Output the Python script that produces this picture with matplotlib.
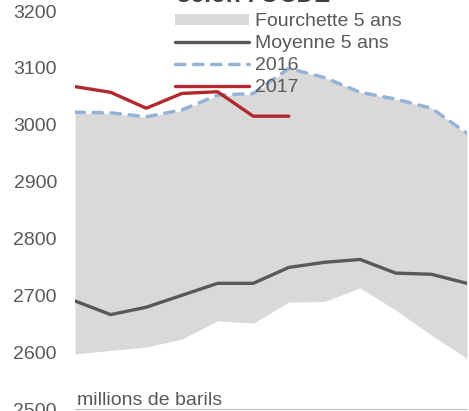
import matplotlib.pyplot as plt
import numpy as np

plt.rcParams['font.family'] = ['Liberation Sans', 'DejaVu Sans']

months = ['janv.', 'févr.', 'mars', 'avr.', 'mai', 'juin',
          'juil.', 'août', 'sept.', 'oct.', 'nov.', 'déc.']
range_low = [2597, 2603, 2609, 2623, 2655, 2651, 2688, 2689, 2713, 2674, 2630, 2589]
range_high = [3020, 3020, 3013, 3025, 3051, 3054, 3099, 3083, 3057, 3045, 3029, 2984]
mean_5y = [2690, 2666, 2679, 2700, 2721, 2721, 2749, 2758, 2763, 2739, 2737, 2721]
stocks_2016 = [3022, 3021, 3014, 3026, 3052, 3055, 3099, 3083, 3057, 3045, 3029, 2985]
stocks_2017 = [3067, 3057, 3029, 3055, 3058, 3015, 3015]

text_col = '#595959'
fs = 14

fig = plt.figure(figsize=(4.69, 4.11), dpi=100)
ax = fig.add_axes([75 / 469, 2 / 411, (467 - 75) / 469, (409 - 11) / 411])

x = np.arange(len(months))
ax.fill_between(x, range_low, range_high, color='#d9d9d9', lw=0,
                label='Fourchette 5 ans')
ax.plot(x, mean_5y, color='#595959', lw=2.4, solid_capstyle='round',
        label='Moyenne 5 ans')
ax.plot(x, stocks_2016, color='#95b3d7', lw=2.5, linestyle=(0, (2.7, 2.5)),
        dash_capstyle='round', label='2016')
ax.plot(np.arange(len(stocks_2017)), stocks_2017, color='#b3282d', lw=2.4,
        solid_capstyle='round', label='2017')

ax.set_xlim(0, len(months) - 1)
ax.set_ylim(2500, 3200)
ax.set_yticks(np.arange(2500, 3201, 100))
ax.set_xticks(x)
ax.tick_params(axis='x', length=0, labelbottom=False)
ax.tick_params(axis='y', length=0, pad=13, labelsize=fs, labelcolor=text_col)
for s in ['top', 'right', 'left']:
    ax.spines[s].set_visible(False)
ax.spines['bottom'].set_color('#bfbfbf')
ax.spines['bottom'].set_linewidth(0.8)

ax.text(0.005, 0.022, 'millions de barils', transform=ax.transAxes,
        fontsize=fs, color=text_col, ha='left', va='center')

leg = ax.legend(loc='upper left', bbox_to_anchor=(100 / 392, 0.995),
                frameon=False, fontsize=fs, labelcolor=text_col,
                handlelength=3.8, handleheight=0.5, handletextpad=0.33,
                labelspacing=0.26, borderpad=0, borderaxespad=0)

fig.text(254 / 469, 1 - 2 / 411, "selon l'OCDE", ha='center', va='baseline',
         fontsize=17.5, fontweight='bold', color='#404040')

fig.savefig('out.png', dpi=100)
